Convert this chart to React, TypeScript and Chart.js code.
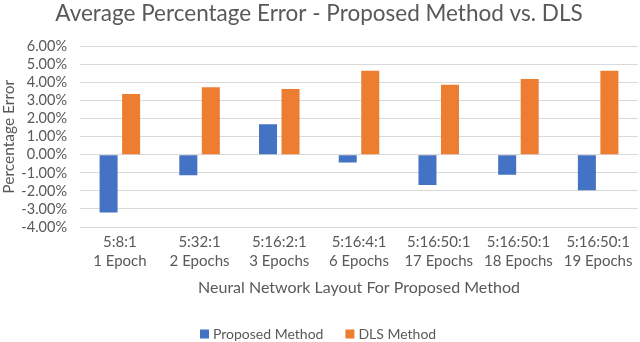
import React, { useEffect, useRef } from "react";
import { Chart, registerables } from "chart.js";

Chart.register(...registerables);

const layouts = ["5:8:1", "5:32:1", "5:16:2:1", "5:16:4:1", "5:16:50:1", "5:16:50:1", "5:16:50:1"];
const epochs = ["1 Epoch", "2 Epochs", "3 Epochs", "6 Epochs", "17 Epochs", "18 Epochs", "19 Epochs"];
const proposedMethod = [-3.19, -1.13, 1.69, -0.42, -1.68, -1.1, -1.96];
const dlsMethod = [3.37, 3.74, 3.65, 4.66, 3.88, 4.2, 4.66];
const seriesNames = ["Proposed Method", "DLS Method"];
const titleText = "Average Percentage Error - Proposed Method vs. DLS";
const xTitle = "Neural Network Layout For Proposed Method";
const yTitle = "Percentage Error";

const FONT = "Lato, 'Open Sans', sans-serif";
const GRAY = "#595959";

const bottomLegend = {
  id: "bottomLegend",
  afterDraw(chart: any) {
    const ctx = chart.ctx;
    const ds = chart.data.datasets;
    const box = 9;
    const gapText = 4;
    const gapItem = 22;
    ctx.save();
    ctx.font = `14px ${FONT}`;
    const widths = ds.map((d: any) => box + gapText + ctx.measureText(d.label).width);
    const total = widths.reduce((a: number, b: number) => a + b, 0) + gapItem * (ds.length - 1);
    let x = Math.round((chart.width - total) / 2) - 2;
    const y = 334;
    ctx.textBaseline = "middle";
    ctx.textAlign = "left";
    ds.forEach((d: any, i: number) => {
      ctx.fillStyle = d.backgroundColor;
      ctx.fillRect(x, y - box / 2, box, box);
      ctx.fillStyle = GRAY;
      ctx.fillText(d.label, x + box + gapText, y + 0.5);
      x += widths[i] + gapItem;
    });
    ctx.restore();
  },
};

export default function App() {
  const ref = useRef<HTMLCanvasElement | null>(null);
  useEffect(() => {
    if (!ref.current) return;
    const chart = new Chart(ref.current, {
      type: "bar",
      data: {
        labels: layouts.map((l, i) => [l, epochs[i]]),
        datasets: [
          {
            label: seriesNames[0],
            data: proposedMethod,
            backgroundColor: "#4472C4",
            categoryPercentage: 0.565,
            barPercentage: 0.8,
          },
          {
            label: seriesNames[1],
            data: dlsMethod,
            backgroundColor: "#ED7D31",
            categoryPercentage: 0.565,
            barPercentage: 0.8,
          },
        ],
      },
      options: {
        animation: false,
        responsive: false,
        maintainAspectRatio: false,
        layout: { padding: { left: 0, right: 2, top: 0, bottom: 45 } },
        plugins: {
          title: {
            display: true,
            text: titleText,
            color: GRAY,
            font: { family: FONT, size: 22.5, weight: "normal" },
            padding: { top: 0, bottom: 19.5 },
          },
          legend: { display: false },
          tooltip: { enabled: false },
        },
        scales: {
          x: {
            grid: { display: false, drawTicks: false },
            border: { display: false },
            afterFit: (s: any) => {
              s.height = 70;
            },
            ticks: {
              color: GRAY,
              font: { family: FONT, size: 15, lineHeight: 1.27 },
              padding: 6,
              maxRotation: 0,
              autoSkip: false,
            },
            title: {
              display: true,
              text: xTitle,
              color: GRAY,
              font: { family: FONT, size: 16 },
              padding: { top: 4, bottom: 0 },
            },
          },
          y: {
            min: -4,
            max: 6,
            grid: { color: "#d9d9d9", drawTicks: false },
            border: { display: false },
            afterFit: (s: any) => {
              s.width = 80;
            },
            ticks: {
              stepSize: 1,
              autoSkip: false,
              color: GRAY,
              font: { family: FONT, size: 14.5 },
              padding: 13,
              callback: (v: any) => Number(v).toFixed(2) + "%",
            },
            title: {
              display: true,
              text: yTitle,
              color: GRAY,
              font: { family: FONT, size: 15.5 },
              padding: { top: 0, bottom: 0 },
            },
          },
        },
      },
      plugins: [bottomLegend],
    });
    return () => chart.destroy();
  }, []);
  return (
    <div style={{ position: "fixed", left: 0, top: 0, width: 640, height: 342, background: "#fff" }}>
      <canvas ref={ref} width={640} height={342} />
    </div>
  );
}
